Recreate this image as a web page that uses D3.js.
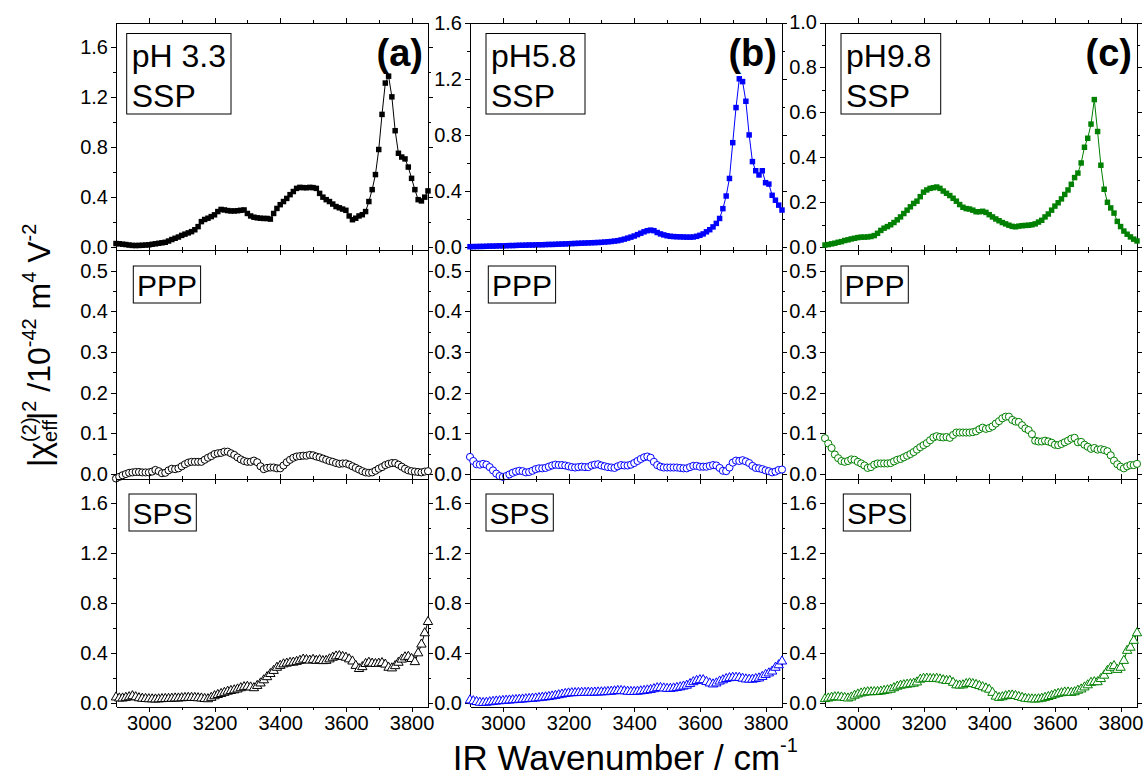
<!DOCTYPE html>
<html>
<head>
<meta charset="utf-8">
<style>
  body { margin: 0; background: #fff; }
  svg text { font-family: Arial, "Liberation Sans", sans-serif; fill: #000; }
  .axis path, .axis line { stroke: #000; stroke-width: 1; shape-rendering: crispEdges; }
  .axis text { font-size: 20px; }
</style>
</head>
<body>
<svg id="chart" width="1146" height="776"></svg>
<script src="https://cdn.jsdelivr.net/npm/d3@7"></script>
<script>
// wavenumber grid (cm-1), one point every 10 cm-1
const wavenumbers = d3.range(2900, 3860, 10);

// SSP
const sspPH33 = [
  0.030,0.028,0.025,0.022,0.018,0.015,0.014,0.015,0.016,0.018,
  0.020,0.024,0.028,0.032,0.036,0.040,0.050,0.062,0.072,0.082,
  0.095,0.105,0.115,0.125,0.140,0.165,0.205,0.222,0.232,0.245,
  0.259,0.285,0.302,0.298,0.293,0.290,0.290,0.292,0.295,0.298,
  0.270,0.250,0.240,0.235,0.232,0.230,0.230,0.225,0.270,0.310,
  0.340,0.365,0.390,0.420,0.445,0.470,0.478,0.476,0.475,0.478,
  0.476,0.470,0.430,0.400,0.380,0.365,0.345,0.325,0.315,0.305,
  0.295,0.250,0.220,0.232,0.250,0.260,0.285,0.365,0.460,0.580,
  0.780,1.060,1.310,1.365,1.200,0.930,0.750,0.720,0.705,0.640,
  0.550,0.460,0.380,0.370,0.400,0.450];
const sspPH58 = [
  0.004,0.005,0.005,0.006,0.006,0.007,0.008,0.008,0.009,0.010,
  0.010,0.011,0.012,0.012,0.013,0.014,0.014,0.015,0.016,0.016,
  0.017,0.018,0.018,0.019,0.020,0.020,0.021,0.022,0.023,0.024,
  0.025,0.026,0.027,0.028,0.029,0.030,0.031,0.032,0.033,0.034,
  0.035,0.037,0.039,0.041,0.044,0.047,0.052,0.058,0.065,0.072,
  0.080,0.090,0.100,0.110,0.118,0.122,0.118,0.105,0.095,0.088,
  0.082,0.078,0.076,0.075,0.074,0.073,0.072,0.072,0.073,0.078,
  0.085,0.095,0.110,0.125,0.145,0.170,0.205,0.275,0.365,0.490,
  0.745,0.995,1.200,1.180,1.040,0.800,0.610,0.545,0.515,0.545,
  0.460,0.450,0.370,0.335,0.300,0.265];
const sspPH98 = [
  0.010,0.012,0.015,0.018,0.022,0.025,0.030,0.033,0.037,0.040,
  0.043,0.045,0.045,0.046,0.048,0.052,0.062,0.075,0.085,0.092,
  0.100,0.110,0.122,0.135,0.150,0.165,0.180,0.195,0.205,0.225,
  0.245,0.255,0.262,0.265,0.268,0.262,0.250,0.240,0.230,0.218,
  0.205,0.190,0.178,0.172,0.170,0.165,0.158,0.158,0.160,0.155,
  0.145,0.135,0.126,0.118,0.110,0.104,0.098,0.093,0.091,0.094,
  0.096,0.097,0.098,0.100,0.104,0.112,0.120,0.135,0.148,0.165,
  0.183,0.198,0.215,0.235,0.255,0.280,0.310,0.330,0.375,0.445,
  0.485,0.548,0.657,0.515,0.365,0.258,0.200,0.175,0.152,0.115,
  0.092,0.072,0.058,0.046,0.036,0.028];

// PPP
const pppPH33 = [
  -0.011,-0.007,-0.003,0.000,0.003,0.004,0.005,0.005,0.004,0.004,
  0.004,0.006,0.010,0.007,0.002,0.003,0.009,0.013,0.012,0.014,
  0.019,0.024,0.028,0.030,0.030,0.030,0.030,0.035,0.040,0.044,
  0.049,0.051,0.052,0.055,0.055,0.051,0.047,0.041,0.036,0.032,
  0.030,0.030,0.033,0.029,0.019,0.012,0.015,0.016,0.016,0.014,
  0.014,0.021,0.029,0.035,0.040,0.043,0.044,0.045,0.045,0.047,
  0.046,0.043,0.041,0.038,0.035,0.032,0.030,0.027,0.025,0.026,
  0.026,0.023,0.019,0.015,0.011,0.007,0.004,0.003,0.004,0.008,
  0.013,0.017,0.022,0.025,0.027,0.027,0.023,0.018,0.013,0.009,
  0.007,0.006,0.005,0.004,0.006,0.007];
const pppPH58 = [
  0.042,0.032,0.024,0.023,0.025,0.023,0.017,0.009,0.001,-0.005,
  -0.007,-0.005,-0.001,0.003,0.006,0.008,0.007,0.004,0.005,0.008,
  0.012,0.014,0.014,0.015,0.018,0.021,0.023,0.022,0.022,0.021,
  0.019,0.017,0.016,0.017,0.018,0.017,0.017,0.021,0.023,0.024,
  0.021,0.019,0.017,0.016,0.015,0.019,0.022,0.021,0.021,0.023,
  0.027,0.032,0.037,0.041,0.043,0.040,0.030,0.022,0.018,0.016,
  0.016,0.016,0.016,0.016,0.015,0.014,0.014,0.017,0.020,0.020,
  0.018,0.018,0.018,0.020,0.022,0.021,0.015,0.008,0.007,0.016,
  0.028,0.033,0.032,0.034,0.031,0.027,0.020,0.015,0.014,0.012,
  0.009,0.007,0.004,0.006,0.010,0.011];
const pppPH98 = [
  0.088,0.075,0.064,0.048,0.039,0.032,0.030,0.032,0.036,0.035,
  0.030,0.026,0.021,0.015,0.017,0.023,0.026,0.026,0.026,0.026,
  0.027,0.031,0.035,0.037,0.041,0.045,0.049,0.054,0.060,0.066,
  0.071,0.076,0.083,0.090,0.093,0.091,0.090,0.091,0.089,0.096,
  0.102,0.102,0.102,0.102,0.102,0.103,0.105,0.110,0.114,0.111,
  0.113,0.117,0.124,0.130,0.137,0.141,0.141,0.133,0.129,0.128,
  0.120,0.112,0.108,0.098,0.082,0.080,0.080,0.082,0.080,0.077,
  0.072,0.071,0.074,0.078,0.082,0.087,0.089,0.078,0.079,0.072,
  0.067,0.062,0.064,0.060,0.061,0.059,0.056,0.046,0.033,0.024,
  0.018,0.014,0.019,0.022,0.022,0.025];

// SPS
const spsPH33 = [
  0.048,0.040,0.040,0.045,0.050,0.058,0.050,0.042,0.038,0.036,
  0.034,0.033,0.032,0.033,0.035,0.036,0.037,0.038,0.040,0.040,
  0.042,0.044,0.045,0.045,0.044,0.042,0.040,0.036,0.034,0.045,
  0.058,0.068,0.076,0.085,0.094,0.100,0.105,0.112,0.122,0.130,
  0.133,0.128,0.122,0.140,0.160,0.185,0.210,0.235,0.260,0.285,
  0.300,0.312,0.318,0.324,0.326,0.332,0.340,0.350,0.346,0.342,
  0.348,0.340,0.345,0.338,0.340,0.352,0.365,0.375,0.378,0.372,
  0.365,0.352,0.335,0.300,0.275,0.290,0.315,0.325,0.318,0.315,
  0.318,0.322,0.310,0.285,0.280,0.298,0.325,0.350,0.368,0.372,
  0.355,0.330,0.400,0.470,0.560,0.650];
const spsPH58 = [
  0.025,0.018,0.012,0.006,0.004,0.006,0.010,0.013,0.016,0.018,
  0.020,0.022,0.024,0.026,0.028,0.030,0.032,0.034,0.036,0.038,
  0.040,0.043,0.046,0.049,0.052,0.056,0.061,0.066,0.071,0.076,
  0.080,0.082,0.083,0.084,0.085,0.085,0.086,0.086,0.087,0.088,
  0.089,0.090,0.092,0.094,0.097,0.100,0.100,0.097,0.094,0.092,
  0.092,0.094,0.097,0.100,0.104,0.108,0.114,0.122,0.124,0.120,
  0.117,0.117,0.120,0.124,0.129,0.135,0.142,0.155,0.170,0.180,
  0.186,0.186,0.172,0.160,0.152,0.160,0.175,0.185,0.195,0.202,
  0.205,0.205,0.204,0.198,0.192,0.190,0.190,0.195,0.200,0.212,
  0.228,0.240,0.255,0.285,0.305,0.335];
const spsPH98 = [
  0.035,0.040,0.046,0.050,0.050,0.048,0.044,0.040,0.048,0.062,
  0.072,0.080,0.086,0.090,0.090,0.091,0.092,0.095,0.100,0.105,
  0.110,0.122,0.134,0.142,0.146,0.150,0.154,0.158,0.168,0.190,
  0.197,0.198,0.196,0.195,0.197,0.192,0.185,0.180,0.180,0.165,
  0.145,0.143,0.145,0.155,0.160,0.155,0.148,0.140,0.130,0.120,
  0.110,0.085,0.055,0.045,0.050,0.058,0.063,0.064,0.060,0.052,
  0.045,0.038,0.035,0.033,0.032,0.034,0.038,0.045,0.052,0.060,
  0.070,0.077,0.082,0.088,0.088,0.085,0.090,0.102,0.112,0.128,
  0.145,0.165,0.170,0.170,0.195,0.222,0.260,0.285,0.298,0.268,
  0.285,0.340,0.420,0.445,0.500,0.560];

// axis ranges and tick labels
const xDomain = [2900, 3850];
const xMajorTicks = [3000, 3200, 3400, 3600, 3800];
const xMinorTicks = [3100, 3300, 3500, 3700];
const yDomainsTop = [[-0.0175, 1.793], [-0.016, 1.601], [-0.01, 1.0]];
const yTicksTop = [[0, 0.4, 0.8, 1.2, 1.6], [0, 0.4, 0.8, 1.2, 1.6], [0, 0.2, 0.4, 0.6, 0.8, 1.0]];
const yMinorTop = [[0.2, 0.6, 1.0, 1.4], [0.2, 0.6, 1.0, 1.4], [0.1, 0.3, 0.5, 0.7, 0.9]];
const yDomainMid = [-0.011, 0.552];
const yTicksMid = [0, 0.1, 0.2, 0.3, 0.4, 0.5];
const yMinorMid = [0.05, 0.15, 0.25, 0.35, 0.45];
const yDomainBot = [-0.0255, 1.793];
const yTicksBot = [0, 0.4, 0.8, 1.2, 1.6];
const yMinorBot = [0.2, 0.6, 1.0, 1.4];

const phLabels = ["pH 3.3", "pH5.8", "pH9.8"];
const panelLetters = ["(a)", "(b)", "(c)"];
const polarizations = ["SSP", "PPP", "SPS"];
const colors = ["#000000", "#0000ff", "#008000"];

// layout
const colLeft = [116, 470, 825];
const panelW = 312;
const rowTop = [22.5, 249.5, 478.5];
const rowBottom = [249.5, 478.5, 706.5];

const svg = d3.select("#chart");
const fmt = d3.format(".1f");

const series = [
  [sspPH33, sspPH58, sspPH98],
  [pppPH33, pppPH58, pppPH98],
  [spsPH33, spsPH58, spsPH98]
];
const symbolTypes = [d3.symbolSquare, d3.symbolCircle, d3.symbolTriangle];
const symbolSizes = [30, 40, 38];

for (let r = 0; r < 3; r++) {
  for (let c = 0; c < 3; c++) {
    const h = rowBottom[r] - rowTop[r];
    const g = svg.append("g").attr("transform", `translate(${colLeft[c]},${rowTop[r]})`);
    const x = d3.scaleLinear().domain(xDomain).range([0, panelW]);
    let yDom, yTicks, yMinor;
    if (r === 0) { yDom = yDomainsTop[c]; yTicks = yTicksTop[c]; yMinor = yMinorTop[c]; }
    else if (r === 1) { yDom = yDomainMid; yTicks = yTicksMid; yMinor = yMinorMid; }
    else { yDom = yDomainBot; yTicks = yTicksBot; yMinor = yMinorBot; }
    const y = d3.scaleLinear().domain(yDom).range([h, 0]);

    // minor ticks
    g.append("g").attr("class", "axis").attr("transform", `translate(0,${h})`)
      .call(d3.axisBottom(x).tickValues(xMinorTicks).tickSize(3).tickFormat("").tickSizeOuter(0));
    g.append("g").attr("class", "axis")
      .call(d3.axisTop(x).tickValues(xMinorTicks).tickSize(3).tickFormat("").tickSizeOuter(0));
    g.append("g").attr("class", "axis")
      .call(d3.axisLeft(y).tickValues(yMinor).tickSize(3).tickFormat("").tickSizeOuter(0));
    g.append("g").attr("class", "axis").attr("transform", `translate(${panelW},0)`)
      .call(d3.axisRight(y).tickValues(yMinor).tickSize(3).tickFormat("").tickSizeOuter(0));

    // major ticks
    g.append("g").attr("class", "axis").attr("transform", `translate(0,${h})`)
      .call(d3.axisBottom(x).tickValues(xMajorTicks).tickSize(5).tickPadding(4)
        .tickFormat(r === 2 ? d3.format("d") : "").tickSizeOuter(0));
    g.append("g").attr("class", "axis")
      .call(d3.axisTop(x).tickValues(xMajorTicks).tickSize(5).tickFormat("").tickSizeOuter(0));
    g.append("g").attr("class", "axis")
      .call(d3.axisLeft(y).tickValues(yTicks).tickSize(5).tickPadding(3).tickFormat(fmt).tickSizeOuter(0));
    g.append("g").attr("class", "axis").attr("transform", `translate(${panelW},0)`)
      .call(d3.axisRight(y).tickValues(yTicks).tickSize(5).tickFormat("").tickSizeOuter(0));

    // data
    const vals = series[r][c];
    const pts = wavenumbers.map((w, i) => ({ w: w, v: vals[i] }));
    const line = d3.line().x(d => x(d.w)).y(d => y(d.v));
    g.append("path").datum(pts)
      .attr("d", line).attr("fill", "none")
      .attr("stroke", colors[c]).attr("stroke-width", 1);
    const sym = d3.symbol().type(symbolTypes[r]).size(symbolSizes[r]);
    g.selectAll("path.pt").data(pts).join("path")
      .attr("class", "pt")
      .attr("transform", d => `translate(${x(d.w)},${y(d.v)})`)
      .attr("d", sym)
      .attr("fill", r === 0 ? colors[c] : "#fff")
      .attr("stroke", r === 0 ? "none" : colors[c])
      .attr("stroke-width", 1);

    // label boxes
    if (r === 0) {
      const bx = [10.7, 16, 16][c], bw = [104.3, 99, 99.7][c];
      g.append("rect").attr("x", bx).attr("y", 11).attr("width", bw).attr("height", 80.5)
        .attr("fill", "#fff").attr("stroke", "#000").attr("stroke-width", 1);
      g.append("text").attr("x", bx + 5).attr("y", 44.5).style("font-size", "32px").text(phLabels[c]);
      g.append("text").attr("x", bx + 5).attr("y", 84.5).style("font-size", "32px").text(polarizations[r]);
      g.append("text").attr("x", panelW - 5).attr("y", 43).attr("text-anchor", "end")
        .style("font-size", "38px").style("font-weight", "bold").text(panelLetters[c]);
    } else {
      const bx = r === 1 ? [17.3, 18.3, 16][c] : [13, 16, 18.3][c];
      const by = r === 1 ? 16.5 : 15.5;
      g.append("rect").attr("x", bx).attr("y", by).attr("width", 67.3).attr("height", 37)
        .attr("fill", "#fff").attr("stroke", "#000").attr("stroke-width", 1);
      g.append("text").attr("x", bx + 33.6).attr("y", by + 30).attr("text-anchor", "middle")
        .style("font-size", "30px").text(polarizations[r]);
    }
  }
}

// y axis title
const yl = svg.append("text").attr("transform", "translate(50,467) rotate(-90)")
  .style("font-size", "32px");
yl.append("tspan").text("|\u03c7");
const sup2 = yl.append("tspan").attr("dy", -14).style("font-size", "20px").text("(2)");
const eff = yl.append("tspan").attr("dy", 21).style("font-size", "20px").text("eff");
yl.append("tspan").attr("dy", -7).text("|");
yl.append("tspan").attr("dy", -14).style("font-size", "20px").text("2");
yl.append("tspan").attr("dy", 14).text(" /10");
yl.append("tspan").attr("dy", -14).style("font-size", "20px").text("-42");
yl.append("tspan").attr("dy", 14).text(" m");
yl.append("tspan").attr("dy", -14).style("font-size", "20px").text("4");
yl.append("tspan").attr("dy", 14).text(" V");
yl.append("tspan").attr("dy", -14).style("font-size", "20px").text("-2");
eff.attr("dx", -sup2.node().getComputedTextLength());

// x axis title
const xl = svg.append("text").attr("x", 452.7).attr("y", 770).style("font-size", "35px");
xl.append("tspan").text("IR Wavenumber / cm");
xl.append("tspan").attr("dy", -18).style("font-size", "20px").text("-1");
</script>
</body>
</html>
